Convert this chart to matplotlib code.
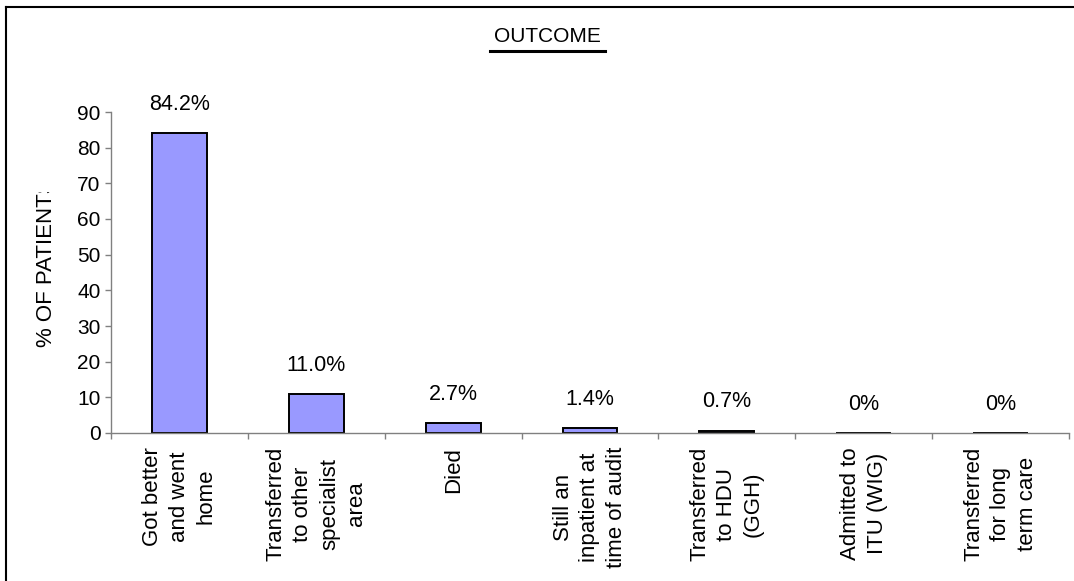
import numpy as np
import matplotlib
matplotlib.use("Agg")
import matplotlib.pyplot as plt
from matplotlib.lines import Line2D
from matplotlib.transforms import Bbox, TransformedBbox

# data
categories = [
    "Got better\nand went\nhome",
    "Transferred\nto other\nspecialist\narea",
    "Died",
    "Still an\ninpatient at\ntime of audit",
    "Transferred\nto HDU\n(GGH)",
    "Admitted to\nITU (WIG)",
    "Transferred\nfor long\nterm care",
]
values = [84.2, 11.0, 2.7, 1.4, 0.7, 0, 0]
value_labels = ["84.2%", "11.0%", "2.7%", "1.4%", "0.7%", "0%", "0%"]
yticks = [0, 10, 20, 30, 40, 50, 60, 70, 80, 90]

plt.rcParams["font.family"] = ["Liberation Sans", "DejaVu Sans"]
grey = "#808080"

W, H = 1074, 581
fig = plt.figure(figsize=(W / 100, H / 100), dpi=100)
ax = fig.add_axes([111 / W, 1 - 433 / H, (1069 - 111) / W, (433 - 112) / H])

x = np.arange(len(values))
ax.bar(x, values, width=0.4, color="#9999FF", edgecolor="black", linewidth=1.4)

for xi, v, lab in zip(x, values, value_labels):
    ax.annotate(lab, (xi, v), xytext=(0, 13), textcoords="offset points",
                ha="center", va="bottom", fontsize=15.5)

ax.set_xlim(-0.5, len(values) - 0.5)
ax.set_ylim(0, 90)
ax.set_yticks(yticks)
ax.tick_params(axis="y", labelsize=15, length=4.5, width=1, color=grey, pad=3)

# ticks at category boundaries, labels at centres
ax.set_xticks(np.arange(len(values) + 1) - 0.5)
ax.set_xticklabels([])
ax.tick_params(axis="x", which="major", length=4.5, width=1, color=grey)
ax.set_xticks(x, minor=True)
ax.set_xticklabels(categories, minor=True, rotation=90, fontsize=16,
                   va="top", ha="center", multialignment="center",
                   linespacing=1.35)
ax.tick_params(axis="x", which="minor", length=0, pad=10)

for s in ["top", "right"]:
    ax.spines[s].set_visible(False)
for s in ["left", "bottom"]:
    ax.spines[s].set_color(grey)
    ax.spines[s].set_linewidth(1)

# title with underline
fig.text(547 / W, 1 - 37 / H, "OUTCOME", ha="center", va="center", fontsize=15)
fig.add_artist(Line2D([490 / W, 605 / W], [1 - 51 / H, 1 - 51 / H], color="black", lw=2.2))

# y label, cut off at the top as in the original
yl = fig.text(47 / W, 1 - 347 / H, "% OF PATIENTS", rotation=90,
              ha="center", va="bottom", fontsize=16)
yl.set_clip_box(TransformedBbox(Bbox.from_extents(0, 0, 1, 1 - 192 / H), fig.transFigure))
yl.set_clip_on(True)

# frame (top and left edges)
fig.add_artist(Line2D([6 / W, 1], [1 - 7 / H, 1 - 7 / H], color="black", lw=1.5))
fig.add_artist(Line2D([6 / W, 6 / W], [0, 1 - 7 / H], color="black", lw=1.5))

fig.savefig("out.png", dpi=100)
